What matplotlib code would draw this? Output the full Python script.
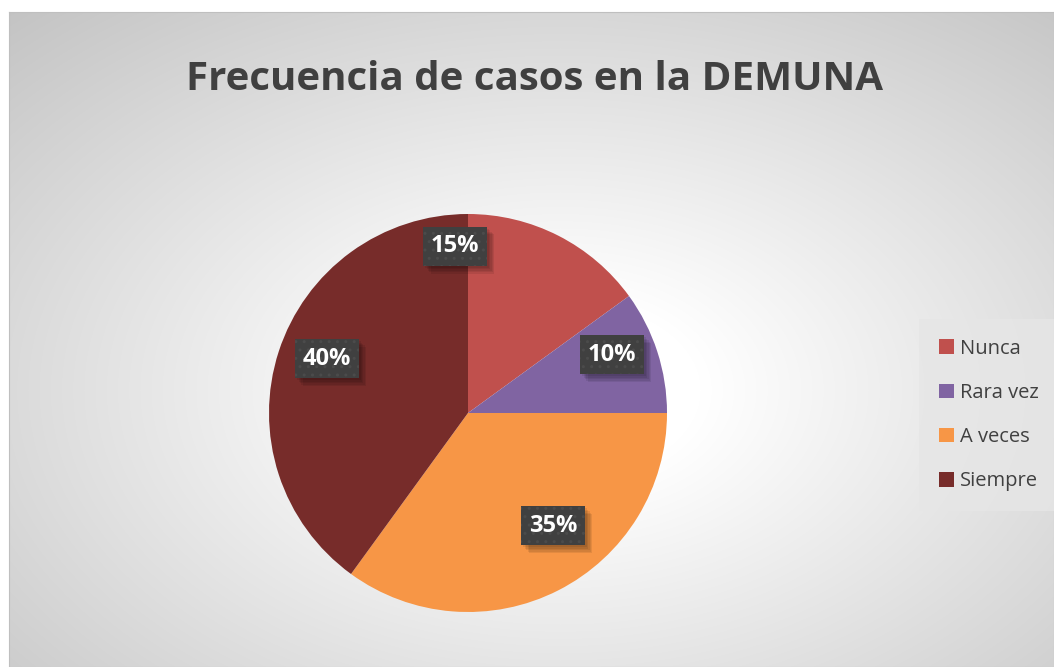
import numpy as np
import matplotlib
matplotlib.use("Agg")
import matplotlib.pyplot as plt
from matplotlib import patheffects as pe

# data
categories = ["Nunca", "Rara vez", "A veces", "Siempre"]
shares = [15, 10, 35, 40]
colors = ["#c0504d", "#8064a2", "#f79646", "#772c2a"]
title = "Frecuencia de casos en la DEMUNA"

# label placement per slice: (angle shift in degrees, fraction of radius)
label_place = [(31.5, 0.84), (4, 0.78), (10, 0.71), (-3, 0.76)]

W, H = 1054, 667
fig = plt.figure(figsize=(W / 100, H / 100), dpi=100)
fig.patch.set_facecolor("white")

# chart area with radial gradient background
left_px, top_px = 9, 12
bg = fig.add_axes([left_px / W, 0, (W - left_px) / W, (H - top_px) / H])
yy, xx = np.mgrid[top_px:H, left_px:W]
r = np.sqrt(((xx - 560) / 560.0) ** 2 + ((yy - 390) / 360.0) ** 2)
shade = np.clip(255 - 50 * np.clip(r - 0.25, 0, None), 0, 255) / 255.0
rgb = np.dstack([shade, shade, shade])
bg.imshow(rgb, aspect="auto", extent=[left_px, W, H, top_px],
          interpolation="bilinear")
bg.set_xticks([])
bg.set_yticks([])
for s in bg.spines.values():
    s.set_color("#bfbfbf")
    s.set_linewidth(0.8)

# main axes in pixel coordinates (y up)
ax = fig.add_axes([0, 0, 1, 1])
cx, cy, rad = 468, H - 413, 199
wedges, _ = ax.pie(shares, colors=colors, startangle=90, counterclock=False,
                   center=(cx, cy), radius=rad, frame=True,
                   wedgeprops=dict(linewidth=0))
ax.set_xlim(0, W)
ax.set_ylim(0, H)
ax.set_aspect("equal")
ax.axis("off")

# soft shadow: several offset copies with low alpha
shadow = [pe.SimplePatchShadow(offset=(o, -o), shadow_rgbFace="black", alpha=0.08)
          for o in (1.5, 2.5, 3.5, 4.5, 5.5)]

for w, val, (dang, frac) in zip(wedges, shares, label_place):
    ang = np.deg2rad((w.theta1 + w.theta2) / 2 + dang)
    tx = cx + frac * rad * np.cos(ang)
    ty = cy + frac * rad * np.sin(ang)
    kw = dict(ha="center", va="center", fontsize=17, fontweight="bold",
              family="Open Sans")
    # plain box carrying the shadow
    t0 = ax.text(tx, ty, f"{val}%", color="none",
                 bbox=dict(boxstyle="square,pad=0.32", facecolor="#404040",
                           linewidth=0), **kw)
    t0.get_bbox_patch().set_path_effects(shadow + [pe.Normal()])
    # dotted box with the label
    ax.text(tx, ty, f"{val}%", color="white",
            bbox=dict(boxstyle="square,pad=0.32", facecolor="#404040",
                      edgecolor="#4b4b4b", linewidth=0, hatch=".."), **kw)

fig.text(535 / W, 1 - 80 / H, title, ha="center", va="center",
         fontsize=29, fontweight="bold", color="#404040", family="Open Sans")

leg = ax.legend(wedges, categories, loc="center left",
                bbox_to_anchor=(925 / W, 1 - 415 / H), frameon=True,
                labelspacing=1.2, handlelength=0.75, handleheight=0.75,
                handletextpad=0.3, borderpad=0.7, borderaxespad=0,
                prop=dict(family="Open Sans", size=14.5))
leg.get_frame().set_facecolor("#e6e6e6")
leg.get_frame().set_edgecolor("none")
leg.get_frame().set_alpha(0.8)
leg.get_frame().set_boxstyle("square")
for txt in leg.get_texts():
    txt.set_color("#404040")

fig.savefig("out.png", dpi=100)
